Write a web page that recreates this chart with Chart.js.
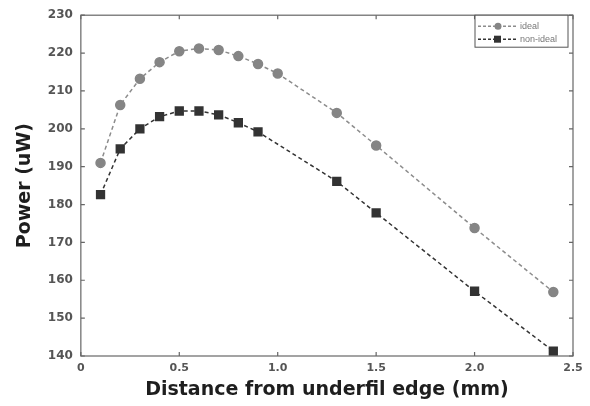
<!DOCTYPE html>
<html><head><meta charset="utf-8">
<script src="https://cdn.jsdelivr.net/npm/chart.js@4/dist/chart.umd.min.js"></script>
<style>html,body{margin:0;padding:0;background:#fff}#wrap{width:590px;height:406px}</style>
</head><body><div id="wrap"><canvas id="c" width="590" height="406"></canvas></div>
<script>
const idealX = [0.1,0.2,0.3,0.4,0.5,0.6,0.7,0.8,0.9,1.0,1.3,1.5,2.0,2.4];
const idealY = [191.0,206.3,213.2,217.6,220.5,221.2,220.8,219.2,217.1,214.6,204.2,195.6,173.8,156.9];
const nonIdealX = [0.1,0.2,0.3,0.4,0.5,0.6,0.7,0.8,0.9,1.3,1.5,2.0,2.4];
const nonIdealY = [182.6,194.7,200.0,203.2,204.7,204.7,203.7,201.6,199.2,186.1,177.8,157.1,141.3];
const seriesNames = ['ideal','non-ideal'];
const xTicks = [0,0.5,1.0,1.5,2.0,2.5];
const yTicks = [140,150,160,170,180,190,200,210,220,230];

const toPts = (xs, ys) => xs.map((x,i)=>({x, y: ys[i]}));
const FONT = '"DejaVu Sans", "Liberation Sans", Arial, sans-serif';

const framePlugin = {
  id:'frame',
  afterDatasetsDraw(chart){
    const {ctx, chartArea:a, scales} = chart;
    ctx.save();
    ctx.strokeStyle = '#666'; ctx.lineWidth = 1.2;
    ctx.strokeRect(a.left, a.top, a.right-a.left, a.bottom-a.top);
    const L = 4;
    ctx.beginPath();
    xTicks.forEach(v=>{ const p = scales.x.getPixelForValue(v);
      ctx.moveTo(p,a.bottom); ctx.lineTo(p,a.bottom-L);
      ctx.moveTo(p,a.top); ctx.lineTo(p,a.top+L); });
    yTicks.forEach(v=>{ const p = scales.y.getPixelForValue(v);
      ctx.moveTo(a.left,p); ctx.lineTo(a.left+L,p);
      ctx.moveTo(a.right,p); ctx.lineTo(a.right-L,p); });
    ctx.stroke();
    // legend
    const bw = 93, bh = 32, bx = a.right-bw-5, by = a.top;
    ctx.fillStyle='#fff'; ctx.fillRect(bx,by,bw,bh);
    ctx.strokeStyle='#555'; ctx.lineWidth=1; ctx.strokeRect(bx,by,bw,bh);
    chart.data.datasets.forEach((ds,i)=>{
      const yy = by + 11 + i*13;
      ctx.strokeStyle = ds.borderColor; ctx.lineWidth = 1.5; ctx.setLineDash([3,2]);
      ctx.beginPath(); ctx.moveTo(bx+3,yy); ctx.lineTo(bx+42,yy); ctx.stroke();
      ctx.setLineDash([]);
      ctx.fillStyle = ds.pointBackgroundColor;
      if (ds.pointStyle==='rect'){ ctx.fillRect(bx+19,yy-3.5,7,7); }
      else { ctx.beginPath(); ctx.arc(bx+23,yy,3.5,0,Math.PI*2); ctx.fill(); }
      ctx.fillStyle='#777'; ctx.font='9px "Liberation Sans", Arial, sans-serif';
      ctx.textBaseline='middle'; ctx.textAlign='left';
      ctx.fillText(ds.label, bx+45, yy);
    });
    ctx.restore();
  }
};

new Chart(document.getElementById('c'), {
  type:'line',
  data:{ datasets:[
    { label: seriesNames[0], data: toPts(idealX, idealY), borderColor:'#8c8c8c', backgroundColor:'#858585',
      pointBackgroundColor:'#858585', pointBorderColor:'#858585', pointStyle:'circle', pointRadius:4.5,
      borderWidth:1.5, borderDash:[4,3], tension:0 },
    { label: seriesNames[1], data: toPts(nonIdealX, nonIdealY), borderColor:'#333', backgroundColor:'#333',
      pointBackgroundColor:'#333', pointBorderColor:'#333', pointStyle:'rect', pointRadius:5.5,
      borderWidth:1.5, borderDash:[4,3], tension:0 }
  ]},
  options:{
    responsive:false, animation:false, devicePixelRatio:1,
    layout:{ padding:{ left:14, right:17, top:5, bottom:5 } },
    plugins:{ legend:{display:false}, tooltip:{enabled:false} },
    scales:{
      x:{ type:'linear', min:0, max:2.5,
        afterBuildTicks(s){ s.ticks = xTicks.map(v=>({value:v})); },
        ticks:{ callback:v=> v===0?'0':Number(v).toFixed(1), color:'#555', padding:6, maxRotation:0,
          font:{ family:FONT, size:11, weight:'bold' } },
        grid:{ display:false, drawTicks:false, tickLength:0 }, border:{ display:false },
        title:{ display:true, text:'Distance from underfil edge (mm)', color:'#1e1e1e', padding:{top:-3,bottom:0},
          font:{ family:FONT, size:19, weight:'bold' } } },
      y:{ type:'linear', min:140, max:230,
        afterBuildTicks(s){ s.ticks = yTicks.map(v=>({value:v})); },
        ticks:{ color:'#555', padding:8,
          font:{ family:FONT, size:12, weight:'bold' } },
        grid:{ display:false, drawTicks:false, tickLength:0 }, border:{ display:false },
        title:{ display:true, text:'Power (uW)', color:'#1e1e1e', padding:{top:0,bottom:3},
          font:{ family:FONT, size:19, weight:'bold' } } }
    }
  },
  plugins:[framePlugin]
});
</script></body></html>
